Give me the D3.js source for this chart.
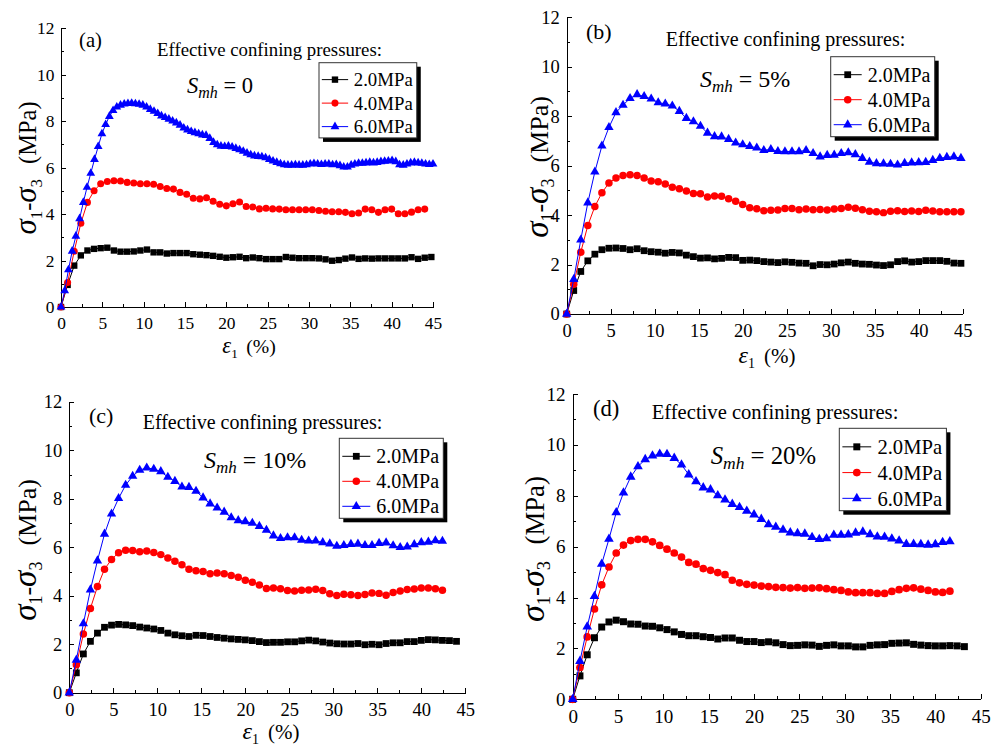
<!DOCTYPE html>
<html>
<head>
<meta charset="utf-8">
<script src="https://d3js.org/d3.v7.min.js"></script>
<style>
  body { margin: 0; background: #fff; }
  svg { display: block; }
  text { font-family: "Liberation Serif", "Times New Roman", serif; fill: #000; }
  .axis path, .axis line { stroke: #000; stroke-width: 1; shape-rendering: crispEdges; }
</style>
</head>
<body>
<div id="chart"></div>
<script>
// legend entries and styles per confining pressure
var pressureLabels = ["2.0MPa", "4.0MPa", "6.0MPa"];
var seriesColors = ["#000000", "#ff0000", "#0000ff"];
var seriesSymbols = [d3.symbolSquare, d3.symbolCircle, d3.symbolTriangle];
var smhLabels = ["0", "5%", "10%", "20%"];
var panelLetters = ["(a)", "(b)", "(c)", "(d)"];

// strain interval between recorded points (%)
var stepA6 = 0.45, step = 0.8;

// (a) Smh = 0
var devA2 = [0, 0.95, 1.78, 2.22, 2.43, 2.5, 2.53, 2.55, 2.43, 2.38, 2.38, 2.39, 2.43, 2.47, 2.35, 2.35, 2.3, 2.32, 2.32, 2.32,
  2.27, 2.25, 2.23, 2.2, 2.16, 2.12, 2.14, 2.16, 2.1, 2.13, 2.1, 2.06, 2.06, 2.06, 2.15, 2.12, 2.1, 2.1, 2.1, 2.09,
  2.05, 1.99, 2.02, 2.08, 2.13, 2.07, 2.09, 2.08, 2.09, 2.09, 2.09, 2.09, 2.09, 2.14, 2.07, 2.12, 2.15];
var devA4 = [0, 1.05, 2.4, 3.6, 4.5, 5.0, 5.3, 5.4, 5.43, 5.42, 5.36, 5.33, 5.3, 5.3, 5.28, 5.18, 5.1, 5.07, 4.93, 4.85,
  4.68, 4.65, 4.7, 4.55, 4.42, 4.35, 4.44, 4.52, 4.32, 4.3, 4.22, 4.25, 4.22, 4.21, 4.18, 4.18, 4.18, 4.18, 4.18, 4.15,
  4.12, 4.1, 4.1, 4.07, 4.01, 4.04, 4.21, 4.18, 4.07, 4.18, 4.21, 4.01, 4.01, 4.08, 4.18, 4.21];
var devA6 = [0, 0.7, 1.6, 2.4, 3.05, 3.8, 4.5, 5.15, 5.75, 6.35, 6.9, 7.45, 7.85, 8.2, 8.45, 8.6, 8.68, 8.73, 8.75, 8.76,
  8.74, 8.72, 8.68, 8.6, 8.5, 8.42, 8.32, 8.22, 8.15, 8.08, 8.0, 7.92, 7.82, 7.7, 7.62, 7.55, 7.5, 7.45, 7.4, 7.38,
  7.25, 7.08, 6.98, 6.92, 6.9, 6.92, 6.88, 6.82, 6.76, 6.7, 6.62, 6.55, 6.5, 6.48, 6.46, 6.42, 6.35, 6.28, 6.22, 6.16,
  6.12, 6.1, 6.1, 6.12, 6.1, 6.1, 6.12, 6.15, 6.17, 6.15, 6.13, 6.15, 6.15, 6.12, 6.13, 6.08, 6.02, 6.02, 6.1, 6.15,
  6.18, 6.18, 6.2, 6.22, 6.2, 6.22, 6.25, 6.27, 6.28, 6.3, 6.25, 6.12, 6.1, 6.15, 6.2, 6.22, 6.2, 6.18, 6.15, 6.13, 6.15];

// (b) Smh = 5%
var devB2 = [0, 0.95, 1.72, 2.15, 2.42, 2.6, 2.66, 2.67, 2.65, 2.6, 2.64, 2.56, 2.52, 2.5, 2.46, 2.49, 2.47, 2.38, 2.32, 2.26,
  2.27, 2.23, 2.25, 2.29, 2.28, 2.17, 2.18, 2.16, 2.12, 2.1, 2.08, 2.11, 2.09, 2.06, 2.05, 1.95, 2.0, 1.99, 2.02, 2.07,
  2.1, 2.05, 2.02, 2.01, 1.98, 1.96, 1.99, 2.12, 2.15, 2.1, 2.12, 2.16, 2.16, 2.16, 2.13, 2.06, 2.05];
var devB4 = [0, 1.2, 2.5, 3.58, 4.35, 4.9, 5.3, 5.5, 5.6, 5.63, 5.6, 5.5, 5.38, 5.35, 5.26, 5.13, 5.07, 4.97, 4.87, 4.86,
  4.73, 4.77, 4.76, 4.66, 4.56, 4.43, 4.3, 4.26, 4.18, 4.2, 4.21, 4.27, 4.27, 4.22, 4.25, 4.22, 4.23, 4.21, 4.25, 4.27,
  4.32, 4.28, 4.22, 4.16, 4.14, 4.1, 4.16, 4.18, 4.15, 4.17, 4.15, 4.2, 4.17, 4.14, 4.14, 4.14, 4.14];
var devB6 = [0, 1.4, 3.0, 4.5, 5.75, 6.8, 7.55, 8.15, 8.45, 8.72, 8.88, 8.8, 8.7, 8.55, 8.5, 8.42, 8.2, 7.92, 7.78, 7.6,
  7.32, 7.18, 7.17, 7.07, 6.92, 6.85, 6.78, 6.72, 6.62, 6.66, 6.58, 6.57, 6.57, 6.57, 6.62, 6.5, 6.36, 6.42, 6.43, 6.5,
  6.53, 6.45, 6.3, 6.15, 6.09, 6.08, 6.06, 6.03, 6.1, 6.12, 6.13, 6.14, 6.22, 6.3, 6.34, 6.36, 6.3];

// (c) Smh = 10%
var devC2 = [0, 0.82, 1.6, 2.12, 2.46, 2.7, 2.79, 2.82, 2.8, 2.77, 2.71, 2.67, 2.63, 2.57, 2.46, 2.39, 2.35, 2.32, 2.37, 2.36,
  2.32, 2.28, 2.25, 2.22, 2.2, 2.18, 2.15, 2.11, 2.07, 2.08, 2.08, 2.1, 2.1, 2.14, 2.17, 2.14, 2.09, 2.05, 2.02, 2.01,
  2.01, 2.03, 1.98, 2.0, 1.98, 2.03, 2.06, 2.06, 2.11, 2.11, 2.16, 2.19, 2.18, 2.16, 2.15, 2.12];
var devC4 = [0, 1.15, 2.42, 3.48, 4.38, 5.1, 5.5, 5.78, 5.88, 5.87, 5.82, 5.85, 5.79, 5.7, 5.56, 5.43, 5.28, 5.1, 5.03, 5.0,
  4.91, 4.94, 4.91, 4.84, 4.77, 4.64, 4.56, 4.45, 4.3, 4.32, 4.29, 4.22, 4.2, 4.23, 4.24, 4.27, 4.22, 4.08, 4.01, 4.06,
  4.04, 4.01, 4.05, 4.12, 4.1, 4.02, 4.14, 4.2, 4.26, 4.28, 4.32, 4.32, 4.29, 4.23];
var devC6 = [0, 1.35, 2.85, 4.25, 5.45, 6.55, 7.38, 8.02, 8.57, 8.94, 9.19, 9.28, 9.23, 9.13, 8.9, 8.73, 8.5, 8.48, 8.32, 8.05,
  7.8, 7.63, 7.46, 7.23, 7.11, 7.07, 7.0, 6.87, 6.71, 6.48, 6.37, 6.4, 6.4, 6.3, 6.27, 6.27, 6.2, 6.15, 6.05, 6.08,
  6.13, 6.14, 6.08, 6.08, 6.17, 6.19, 6.07, 6.0, 6.02, 6.12, 6.2, 6.22, 6.28, 6.26];

// (d) Smh = 20%
var devD2 = [0, 0.92, 1.75, 2.42, 2.84, 3.04, 3.11, 3.05, 2.96, 2.95, 2.88, 2.87, 2.81, 2.74, 2.65, 2.55, 2.5, 2.5, 2.46, 2.43,
  2.37, 2.41, 2.41, 2.32, 2.27, 2.27, 2.23, 2.26, 2.22, 2.15, 2.11, 2.12, 2.14, 2.13, 2.08, 2.12, 2.14, 2.1, 2.1, 2.06,
  2.06, 2.12, 2.14, 2.15, 2.2, 2.21, 2.22, 2.16, 2.13, 2.11, 2.1, 2.1, 2.11, 2.1, 2.07];
var devD4 = [0, 1.25, 2.45, 3.55, 4.5, 5.2, 5.75, 6.06, 6.24, 6.29, 6.29, 6.19, 6.05, 5.9, 5.75, 5.59, 5.38, 5.31, 5.14, 5.07,
  4.98, 4.9, 4.68, 4.58, 4.52, 4.49, 4.45, 4.43, 4.4, 4.39, 4.37, 4.39, 4.36, 4.37, 4.38, 4.35, 4.31, 4.28, 4.22, 4.19,
  4.19, 4.19, 4.16, 4.16, 4.24, 4.31, 4.36, 4.38, 4.33, 4.28, 4.22, 4.2, 4.25];
var devD6 = [0, 1.5, 2.85, 4.05, 5.32, 6.3, 7.34, 8.12, 8.74, 9.15, 9.43, 9.57, 9.64, 9.63, 9.48, 9.22, 8.83, 8.56, 8.32, 8.24,
  8.01, 7.84, 7.67, 7.55, 7.4, 7.26, 7.08, 6.87, 6.77, 6.66, 6.55, 6.52, 6.5, 6.37, 6.29, 6.32, 6.46, 6.46, 6.47, 6.54,
  6.58, 6.48, 6.39, 6.38, 6.31, 6.23, 6.1, 6.1, 6.09, 6.07, 6.09, 6.17, 6.2];

var xTicks = [0, 5, 10, 15, 20, 25, 30, 35, 40, 45];
var yTicks = [0, 2, 4, 6, 8, 10, 12];

// panel placement (pixels)
var panels = [
  { x0: 61, x1: 433, yb: 307, yt: 28, s: 0.94, letter: [79, 47], title: [157, 56], smh: [187, 93],
    legend: [319, 62.7], xlab: [249, 353], ylab: [36, 168],
    series: [[devA2, step], [devA4, step], [devA6, stepA6]] },
  { x0: 566.7, x1: 962.7, yb: 314, yt: 17.3, s: 1, letter: [586, 39], title: [665.7, 46], smh: [700, 87],
    legend: [830.7, 56.7], xlab: [767, 363], ylab: [548, 167],
    series: [[devB2, step], [devB4, step], [devB6, step]] },
  { x0: 69.3, x1: 465.3, yb: 692.7, yt: 402, s: 1, letter: [89, 423], title: [142.7, 429], smh: [204, 468],
    legend: [339.3, 438.3], xlab: [271, 739], ylab: [36, 550],
    series: [[devC2, step], [devC4, step], [devC6, step]] },
  { x0: 572.7, x1: 980.7, yb: 699.3, yt: 394, s: 1.03, letter: [593, 416], title: [651.7, 419], smh: [710.7, 464],
    legend: [839.3, 428.3], xlab: null, ylab: [544, 549],
    series: [[devD2, step], [devD4, step], [devD6, step]] }
];

var serif = '"Liberation Serif", "Times New Roman", serif';

var svg = d3.select("#chart").append("svg")
  .attr("width", 999)
  .attr("height", 745);

var markerSize = [46, 44, 38];

function drawPanel(p, k) {
  var s = p.s;
  var x = d3.scaleLinear().domain([0, 45]).range([p.x0, p.x1]);
  var y = d3.scaleLinear().domain([0, 12]).range([p.yb, p.yt]);
  var g = svg.append("g").attr("class", "panel");

  // minor ticks
  g.append("g").attr("class", "axis")
    .attr("transform", "translate(0," + p.yb + ")")
    .call(d3.axisBottom(x).tickValues(d3.range(2.5, 45, 5)).tickSize(-3).tickSizeOuter(0).tickFormat(""));
  g.append("g").attr("class", "axis")
    .attr("transform", "translate(" + p.x0 + ",0)")
    .call(d3.axisLeft(y).tickValues(d3.range(1, 12, 2)).tickSize(-3).tickSizeOuter(0).tickFormat(""));

  // major ticks
  var xa = g.append("g").attr("class", "axis")
    .attr("transform", "translate(0," + p.yb + ")")
    .attr("font-family", serif)
    .call(d3.axisBottom(x).tickValues(xTicks).tickSize(-5).tickSizeOuter(0).tickPadding(10 * s));
  xa.attr("font-family", serif);
  xa.selectAll("text").style("font-family", serif).style("font-size", (18.5 * s) + "px");
  var ya = g.append("g").attr("class", "axis")
    .attr("transform", "translate(" + p.x0 + ",0)")
    .call(d3.axisLeft(y).tickValues(yTicks).tickSize(-5).tickSizeOuter(0).tickPadding(7 * s));
  ya.attr("font-family", serif);
  ya.selectAll("text").style("font-family", serif).style("font-size", (18.5 * s) + "px");

  // curves
  p.series.forEach(function(sr, i) {
    var vals = sr[0], dx = sr[1];
    var pts = vals.map(function(v, j) { return [j * dx, v]; });
    g.append("path")
      .datum(pts)
      .attr("fill", "none")
      .attr("stroke", seriesColors[i])
      .attr("stroke-width", 1)
      .attr("d", d3.line().x(function(d) { return x(d[0]); }).y(function(d) { return y(d[1]); }));
    g.selectAll(".m" + i)
      .data(pts)
      .enter().append("path")
      .attr("class", "m" + i)
      .attr("transform", function(d) { return "translate(" + x(d[0]) + "," + y(d[1]) + ")"; })
      .attr("d", d3.symbol().type(seriesSymbols[i]).size(markerSize[i] * s * s))
      .attr("fill", seriesColors[i]);
  });

  // panel letter and title
  g.append("text").attr("x", p.letter[0]).attr("y", p.letter[1])
    .style("font-size", (22 * s) + "px").text(panelLetters[k]);
  g.append("text").attr("x", p.title[0]).attr("y", p.title[1])
    .style("font-size", (20 * s) + "px").text("Effective confining pressures:");

  var sm = g.append("text").attr("x", p.smh[0]).attr("y", p.smh[1])
    .style("font-size", (24 * s) + "px");
  sm.append("tspan").style("font-style", "italic").text("S");
  sm.append("tspan").style("font-style", "italic").style("font-size", (17 * s) + "px")
    .attr("dy", 5 * s).text("mh");
  sm.append("tspan").attr("dy", -5 * s).text(" = " + smhLabels[k]);

  // legend
  var lg = g.append("g").attr("transform", "translate(" + p.legend[0] + "," + p.legend[1] + ")");
  lg.append("rect").attr("x", 4).attr("y", 4).attr("width", 104 * s).attr("height", 80 * s).attr("fill", "#000");
  lg.append("rect").attr("width", 104 * s).attr("height", 80 * s)
    .attr("fill", "#fff").attr("stroke", "#333").attr("stroke-width", 1);
  pressureLabels.forEach(function(lab, i) {
    var cy = (18 + 25 * i) * s;
    lg.append("line").attr("x1", 3 * s).attr("x2", 31 * s).attr("y1", cy).attr("y2", cy)
      .attr("stroke", seriesColors[i]).attr("stroke-width", 1);
    lg.append("path").attr("transform", "translate(" + (17 * s) + "," + cy + ")")
      .attr("d", d3.symbol().type(seriesSymbols[i]).size(markerSize[i] * s * s))
      .attr("fill", seriesColors[i]);
    lg.append("text").attr("x", 37 * s).attr("y", cy + 7 * s)
      .style("font-size", (20 * s) + "px").text(lab);
  });

  // axis titles
  if (p.xlab) {
    var xt = g.append("text").attr("x", p.xlab[0]).attr("y", p.xlab[1])
      .attr("text-anchor", "middle").style("font-size", (21 * s) + "px");
    xt.append("tspan").style("font-style", "italic").style("font-size", (24 * s) + "px").text("\u03b5");
    xt.append("tspan").style("font-size", (14 * s) + "px").attr("dy", 5 * s).text("1");
    xt.append("tspan").attr("dy", -5 * s).attr("dx", 9 * s).text("(%)");
  }
  var yt = g.append("text")
    .attr("transform", "translate(" + p.ylab[0] + "," + p.ylab[1] + ") rotate(-90)")
    .attr("text-anchor", "middle").style("font-size", (26 * s) + "px");
  yt.append("tspan").style("font-style", "italic").style("font-size", (33 * s) + "px").text("\u03c3");
  yt.append("tspan").style("font-size", (18 * s) + "px").attr("dy", 6 * s).text("1");
  yt.append("tspan").attr("dy", -6 * s).text("-");
  yt.append("tspan").style("font-style", "italic").style("font-size", (33 * s) + "px").text("\u03c3");
  yt.append("tspan").style("font-size", (18 * s) + "px").attr("dy", 6 * s).text("3");
  yt.append("tspan").attr("dy", -6 * s).attr("dx", 16 * s).text("(MPa)");
}

panels.forEach(drawPanel);
</script>
</body>
</html>
